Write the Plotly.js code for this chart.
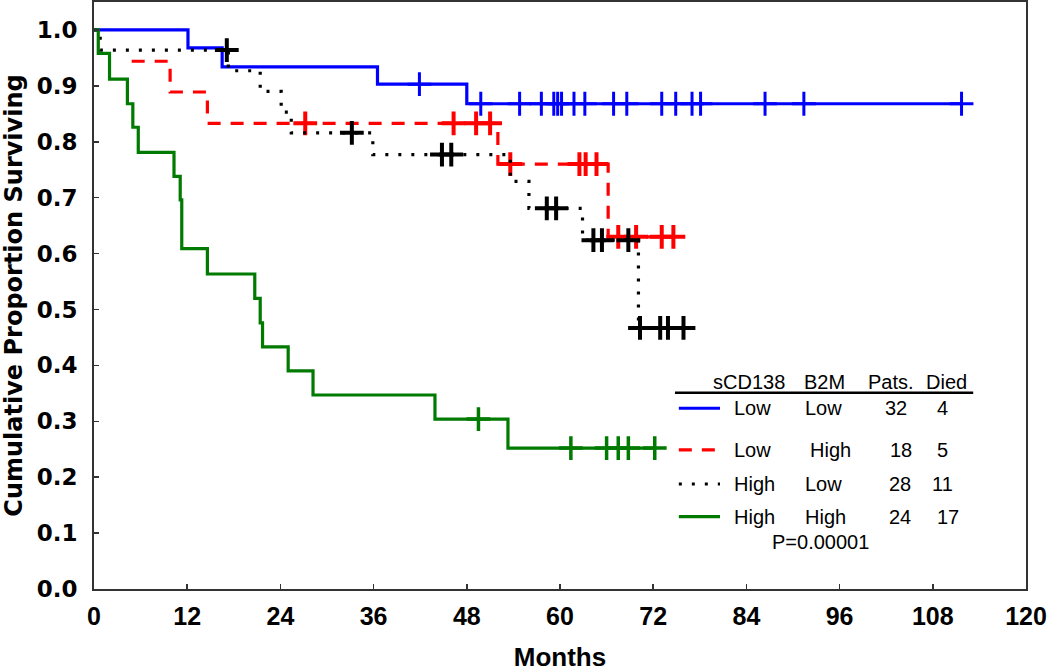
<!DOCTYPE html>
<html>
<head>
<meta charset="utf-8">
<script src="https://cdn.plot.ly/plotly-3.0.1.min.js"></script>
<style>html,body{margin:0;padding:0;background:#fff;}#chart{width:1050px;height:672px;}</style>
</head>
<body>
<div id="chart"></div>
<script>
// ---- Kaplan-Meier step data (months, cumulative proportion surviving) ----
const blueT  = [0, 12.1, 16.5, 36.5, 48.0, 111.7];
const blueS  = [1.0, 0.968, 0.934, 0.903, 0.868, 0.868];
const blueCT = [41.9, 49.8, 54.8, 57.6, 59.2, 59.7, 60.2, 61.8, 63.2, 66.9, 68.6, 73.1, 74.9, 77.0, 78.1, 86.4, 91.4, 111.7];
const blueCS = [0.903, 0.868, 0.868, 0.868, 0.868, 0.868, 0.868, 0.868, 0.868, 0.868, 0.868, 0.868, 0.868, 0.868, 0.868, 0.868, 0.868, 0.868];

const redT  = [4.85, 9.8, 14.6, 52.0, 66.2, 74.6];
const redS  = [0.944, 0.889, 0.833, 0.760, 0.630, 0.630];
const redCT = [27.2, 46.3, 49.2, 51.0, 53.6, 62.5, 63.3, 64.7, 67.5, 69.8, 73.1, 74.6];
const redCS = [0.833, 0.833, 0.833, 0.833, 0.760, 0.760, 0.760, 0.760, 0.630, 0.630, 0.630, 0.630];

const blackT  = [0, 0.8, 17.3, 21.4, 24.1, 25.4, 35.9, 53.6, 56.0, 62.9, 70.1, 75.9];
const blackS  = [1.0, 0.964, 0.927, 0.890, 0.853, 0.816, 0.777, 0.729, 0.681, 0.624, 0.467, 0.467];
const blackCT = [17.1, 33.2, 44.8, 46.0, 58.3, 59.5, 64.3, 65.4, 68.8, 70.3, 72.9, 73.9, 75.9];
const blackCS = [0.964, 0.816, 0.777, 0.777, 0.681, 0.681, 0.624, 0.624, 0.624, 0.467, 0.467, 0.467, 0.467];

const greenT  = [0, 0.55, 2.0, 4.3, 5.0, 5.7, 10.3, 11.1, 11.3, 14.6, 20.7, 21.4, 21.7, 25.0, 28.2, 43.9, 53.3, 72.2];
const greenS  = [1.0, 0.958, 0.912, 0.868, 0.826, 0.781, 0.738, 0.696, 0.609, 0.5635, 0.52, 0.476, 0.433, 0.39, 0.347, 0.304, 0.252, 0.252];
const greenCT = [49.5, 61.4, 66.0, 67.5, 68.8, 72.2];
const greenCS = [0.304, 0.252, 0.252, 0.252, 0.252, 0.252];

// ---- legend table ----
const legendHeader = ["sCD138", "B2M", "Pats.", "Died"];
const legendCD138  = ["Low", "Low", "High", "High"];
const legendB2M    = ["Low", "High", "Low", "High"];
const legendPats   = ["32", "18", "28", "24"];
const legendDied   = ["4", "5", "11", "17"];
const pText = "P=0.00001";

const xTicks = [0, 12, 24, 36, 48, 60, 72, 84, 96, 108, 120];
const yTicks = [0, 0.1, 0.2, 0.3, 0.4, 0.5, 0.6, 0.7, 0.8, 0.9, 1.0];

// ---- styles ----
const groups = [
  {T: blueT,  S: blueS,  CT: blueCT,  CS: blueCS,  color: '#0000ff', dash: 'solid',     w: 3.2, mw: 3,   ms: 17},
  {T: redT,   S: redS,   CT: redCT,   CS: redCS,   color: '#ff0000', dash: '13px,10px', w: 3.2, mw: 4,   ms: 17},
  {T: blackT, S: blackS, CT: blackCT, CS: blackCS, color: '#000000', dash: '3px,10px',  w: 3.2, mw: 4,   ms: 17},
  {T: greenT, S: greenS, CT: greenCT, CS: greenCS, color: '#007a00', dash: 'solid',     w: 3.2, mw: 3.5, ms: 17}
];

const traces = [];
groups.forEach(g => {
  traces.push({x: g.T, y: g.S, type: 'scatter', mode: 'lines',
    line: {shape: 'hv', color: g.color, width: g.w, dash: g.dash},
    hoverinfo: 'skip', showlegend: false});
  traces.push({x: g.CT, y: g.CS, type: 'scatter', mode: 'markers',
    marker: {symbol: 'cross-thin-open', size: g.ms, color: g.color, line: {color: g.color, width: g.mw}},
    hoverinfo: 'skip', showlegend: false});
});

// legend layout positions (data coordinates)
const rowY = [0.3233, 0.2487, 0.1878, 0.1293];
const headerY = 0.3708, ruleY = 0.3512, pY = 0.0846;
const legFont = {family: 'Liberation Sans, Arial, sans-serif', size: 20, color: '#000'};

const annotations = [];
const shapes = [];
const hdrX = [79.4, 91.2, 99.4, 106.9];
legendHeader.forEach((t, i) => annotations.push({x: hdrX[i], y: headerY, xref: 'x', yref: 'y', text: t,
  showarrow: false, xanchor: 'left', yanchor: 'middle', font: legFont}));
shapes.push({type: 'line', xref: 'x', yref: 'y', x0: 74.8, x1: 113.2, y0: ruleY, y1: ruleY, line: {color: '#000', width: 2.5}});
const b2mX = [91.3, 91.9, 91.3, 91.3];
const patsX = [103.2, 103.9, 103.8, 103.8];
const diedX = [109.3, 109.2, 109.2, 110.0];
groups.forEach((g, i) => {
  shapes.push({type: 'line', xref: 'x', yref: 'y', x0: 75.3, x1: 80.6, y0: rowY[i], y1: rowY[i],
    line: {color: g.color, width: g.w, dash: g.dash}});
  annotations.push({x: 82.2, y: rowY[i], xref: 'x', yref: 'y', text: legendCD138[i], showarrow: false, xanchor: 'left', yanchor: 'middle', font: legFont});
  annotations.push({x: b2mX[i], y: rowY[i], xref: 'x', yref: 'y', text: legendB2M[i], showarrow: false, xanchor: 'left', yanchor: 'middle', font: legFont});
  annotations.push({x: patsX[i], y: rowY[i], xref: 'x', yref: 'y', text: legendPats[i], showarrow: false, xanchor: 'center', yanchor: 'middle', font: legFont});
  annotations.push({x: diedX[i], y: rowY[i], xref: 'x', yref: 'y', text: legendDied[i], showarrow: false, xanchor: 'center', yanchor: 'middle', font: legFont});
});
annotations.push({x: 93.5, y: pY, xref: 'x', yref: 'y', text: pText, showarrow: false, xanchor: 'center', yanchor: 'middle', font: legFont});

const layout = {
  width: 1050, height: 672,
  margin: {l: 94, r: 24, t: 2, b: 83, pad: 0},
  paper_bgcolor: '#fff', plot_bgcolor: '#fff',
  showlegend: false,
  xaxis: {
    range: [0, 120], tickvals: xTicks, ticktext: xTicks.map(String),
    ticks: 'inside', ticklen: 5, tickwidth: 1.5, tickcolor: '#333',
    showline: true, linecolor: '#333', linewidth: 2, mirror: true,
    showgrid: false, zeroline: false, ticklabelstandoff: 4,
    tickfont: {family: 'Liberation Sans Narrow, Arial Narrow, Liberation Sans, sans-serif', size: 25, weight: 'bold', color: '#000'},
    title: {text: 'Months', standoff: 20,
      font: {family: 'Liberation Sans Narrow, Arial Narrow, Liberation Sans, sans-serif', size: 26, weight: 'bold', color: '#000'}}
  },
  yaxis: {
    range: [0, 1.05], tickvals: yTicks, ticktext: yTicks.map(v => v.toFixed(1)),
    ticks: 'inside', ticklen: 5, tickwidth: 1.5, tickcolor: '#333',
    showline: true, linecolor: '#333', linewidth: 2, mirror: true,
    showgrid: false, zeroline: false, ticklabelstandoff: 10,
    tickfont: {family: 'DejaVu Sans, sans-serif', size: 23, weight: 'bold', color: '#000'},
    title: {text: 'Cumulative Proportion Surviving', standoff: 8,
      font: {family: 'DejaVu Sans, sans-serif', size: 24, weight: 'bold', color: '#000'}}
  },
  annotations: annotations,
  shapes: shapes
};

Plotly.newPlot('chart', traces, layout, {displayModeBar: false, staticPlot: true});
</script>
</body>
</html>
